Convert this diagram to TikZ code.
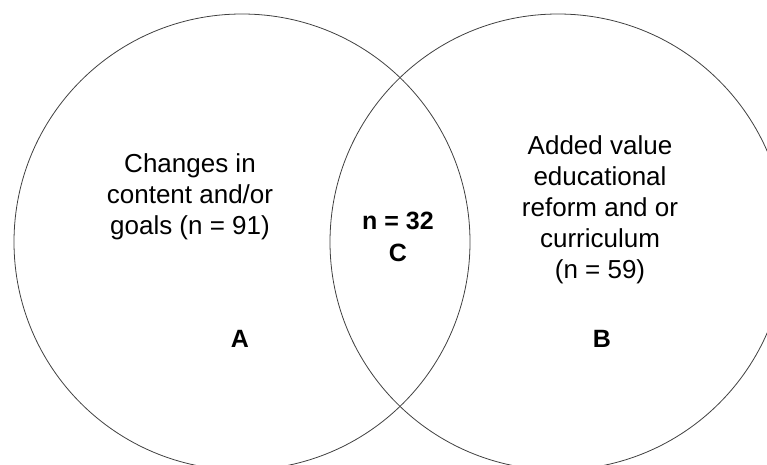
\documentclass[tikz,border=0pt]{standalone}
\usepackage{fontspec}
\setmainfont{Liberation Sans}
\usetikzlibrary{positioning}

\tikzset{
  setcircle/.style={draw=black!75, line width=0.8pt},
  settext/.style={font=\fontsize{26}{31}\selectfont, align=center, inner sep=0pt},
  regionmark/.style={font=\fontsize{25}{32}\selectfont\bfseries, align=center, inner sep=0pt}
}

\begin{document}
\begin{tikzpicture}[x=1pt, y=1pt]
  % frame (767 x 464)
  \useasboundingbox (0,0) rectangle (767,464);
  \clip (0,0) rectangle (767,464);

  % circles
  \def\r{228}
  \coordinate (cA) at (242,222);   % centre set A
  \coordinate (cB) at (558,222);   % centre set B
  \draw[setcircle] (cA) circle (\r);
  \draw[setcircle] (cB) circle (\r);

  % texts in the sets
  \node[settext] (textA) at (190,267) {Changes in\\content and/or\\goals (n = 91)};
  \node[settext] (textB) at (600,254) {Added value\\educational\\reform and or\\curriculum\\(n = 59)};
  \node[regionmark] (textC) at (398,227) {n = 32\\C};

  % region labels
  \node[regionmark] (labA) at (240,125.5) {A};
  \node[regionmark] (labB) at (602,125.5) {B};
\end{tikzpicture}
\end{document}
